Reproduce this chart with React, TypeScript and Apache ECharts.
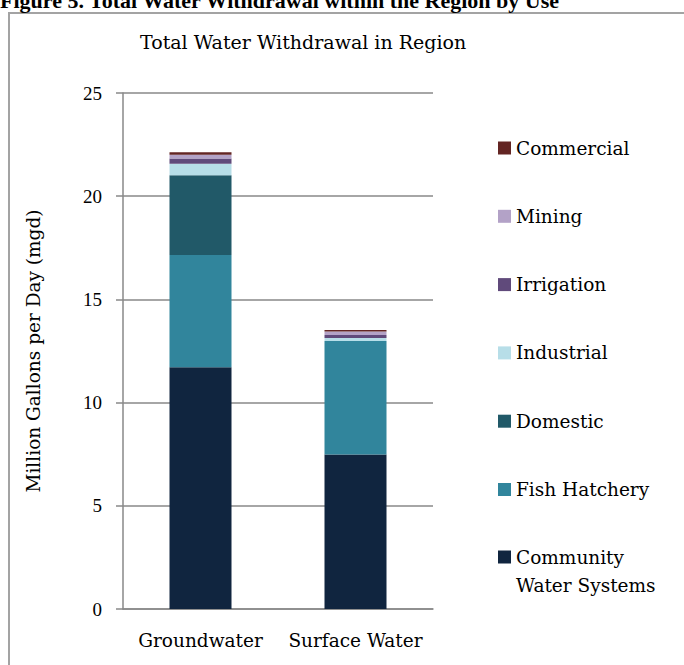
import React, { useEffect, useRef } from 'react';
import * as echarts from 'echarts';

// Water sources on the x axis
const sources = ['Groundwater', 'Surface Water'];

// Withdrawal by use, million gallons per day, [Groundwater, Surface Water]
const communityWater = [11.71, 7.49];
const fishHatchery = [5.44, 5.49];
const domestic = [3.86, 0];
const industrial = [0.56, 0.15];
const irrigation = [0.26, 0.15];
const mining = [0.18, 0.16];
const commercial = [0.12, 0.08];

// Stacking order, bottom to top
const useNames = [
  'Community Water Systems',
  'Fish Hatchery',
  'Domestic',
  'Industrial',
  'Irrigation',
  'Mining',
  'Commercial',
];
const useValues = [communityWater, fishHatchery, domestic, industrial, irrigation, mining, commercial];
const useColors = ['#10253F', '#31859C', '#215968', '#B7DEE8', '#604A7B', '#B3A2C7', '#632523'];

const yMin = 0;
const yMax = 25;
const yStep = 5;

const WORD_FONT = '"DejaVu Serif", serif';
const NUM_FONT = '"Liberation Serif", serif';
const AXIS_GREY = '#898989';

export default function App() {
  const ref = useRef<HTMLDivElement>(null);

  useEffect(() => {
    const el = ref.current;
    if (!el) return;
    const chart = echarts.init(el, undefined, { renderer: 'svg' });

    const series = useNames.map((name, i) => ({
      name,
      type: 'bar',
      stack: 'withdrawal',
      barWidth: '40%',
      itemStyle: { color: useColors[i] },
      data: useValues[i],
    }));

    const legendText = { fontFamily: WORD_FONT, fontSize: 18.5, color: '#000' };

    chart.setOption({
      animation: false,
      backgroundColor: '#fff',
      title: {
        text: 'Total Water Withdrawal in Region',
        left: 140,
        top: 32,
        padding: 0,
        textStyle: { fontFamily: WORD_FONT, fontSize: 19, fontWeight: 'normal', color: '#000' },
      },
      graphic: [
        {
          type: 'rect',
          silent: true,
          z: -10,
          shape: { x: 9, y: 13, width: 720, height: 720 },
          style: { fill: 'none', stroke: '#a3a3a3', lineWidth: 2 },
        },
        {
          type: 'text',
          silent: true,
          x: 0,
          y: 0,
          style: {
            text: 'Figure 5. Total Water Withdrawal within the Region by Use',
            font: 'bold 22px "Liberation Serif", serif',
            fill: '#000',
            verticalAlign: 'middle',
          },
        },
      ],
      legend: [
        {
          data: useNames.slice(1).reverse(),
          orient: 'vertical',
          left: 498,
          top: 138.5,
          padding: 0,
          itemWidth: 13,
          itemHeight: 13,
          itemGap: 49.3,
          icon: 'rect',
          selectedMode: false,
          textStyle: { ...legendText, lineHeight: 13 },
        },
        {
          data: [useNames[0]],
          orient: 'vertical',
          left: 498,
          top: 515,
          padding: 0,
          itemWidth: 13,
          itemHeight: 13,
          icon: 'rect',
          selectedMode: false,
          formatter: () => '\nCommunity\nWater Systems',
          textStyle: { ...legendText, lineHeight: 28 },
        },
      ],
      grid: { left: 123, right: 251, top: 93, bottom: 56 },
      xAxis: {
        type: 'category',
        data: sources,
        axisLine: { show: true, lineStyle: { color: AXIS_GREY, width: 1.5 } },
        axisTick: { show: false },
        axisLabel: { interval: 0, margin: 22, fontFamily: WORD_FONT, fontSize: 18.5, color: '#000' },
      },
      yAxis: {
        type: 'value',
        min: yMin,
        max: yMax,
        interval: yStep,
        name: 'Million Gallons per Day (mgd)',
        nameLocation: 'middle',
        nameGap: 80,
        nameTextStyle: { fontFamily: WORD_FONT, fontSize: 18.5, color: '#000' },
        axisLine: { show: true, lineStyle: { color: AXIS_GREY, width: 1.5 } },
        axisTick: { show: true, length: 7, lineStyle: { color: AXIS_GREY, width: 1.5 } },
        splitLine: { show: true, lineStyle: { color: AXIS_GREY, width: 1.5 } },
        axisLabel: { margin: 21, fontFamily: NUM_FONT, fontSize: 19, color: '#000' },
      },
      series,
    });

    return () => chart.dispose();
  }, []);

  return (
    <div
      ref={ref}
      style={{ position: 'fixed', left: 0, top: 0, width: 684, height: 665, background: '#fff' }}
    />
  );
}
